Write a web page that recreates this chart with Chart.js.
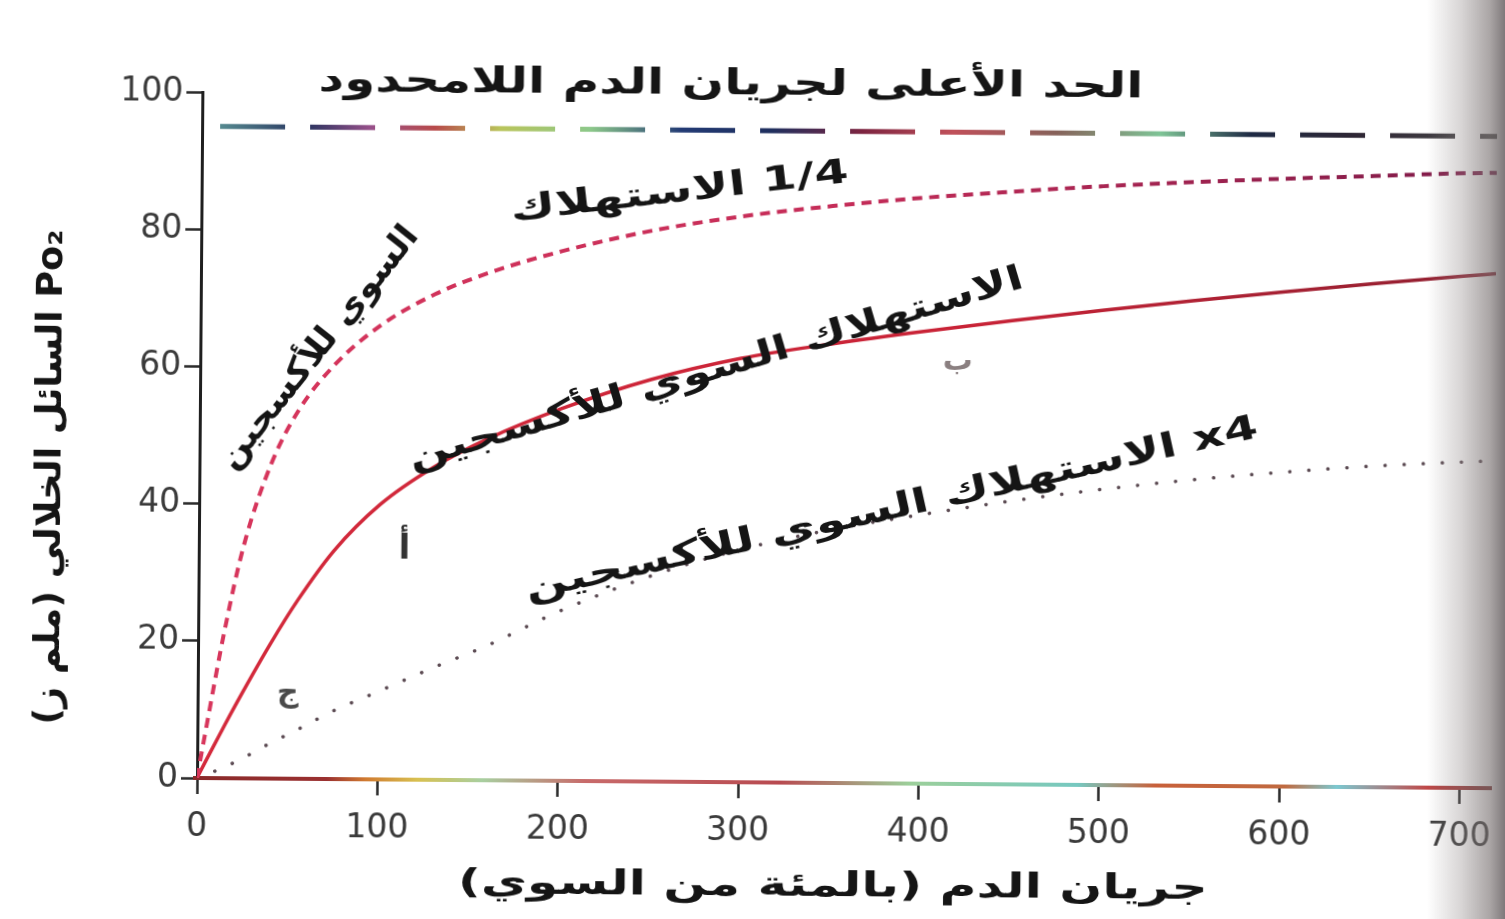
<!DOCTYPE html>
<html lang="ar">
<head>
<meta charset="utf-8">
<title>PO2 السائل الخلالي وجريان الدم</title>
<script src="https://cdn.jsdelivr.net/npm/chart.js@4.4.1/dist/chart.umd.min.js"></script>
<style>
  html, body { margin: 0; padding: 0; background: #fff; overflow: hidden; }
  #wrap { position: relative; width: 1505px; height: 919px; overflow: hidden; background: #fff; }
  /* the printed figure sits very slightly turned on the page */
  #chart { position: absolute; left: 0; top: 0; transform: rotate(0.45deg); transform-origin: 197px 778px; }
  /* shadow of the page fold along the right edge */
  #fold { position: absolute; right: 0; top: 0; width: 78px; height: 919px; pointer-events: none;
          background: linear-gradient(to right, rgba(150,140,140,0) 0%, rgba(140,132,132,0.35) 45%, rgba(120,112,112,0.62) 80%, rgba(95,88,90,0.8) 100%); }
</style>
</head>
<body>
<div id="wrap">
  <canvas id="chart" width="1505" height="919"></canvas>
  <div id="fold"></div>
</div>
<script>
// Blood flow (% of normal) and interstitial fluid PO2 (mm Hg) for three rates of O2 consumption
const flow        = [0, 5, 15, 25, 40, 55, 75, 100, 130, 160, 200, 250, 300, 350, 400, 450, 500, 550, 600, 650, 700, 718];
const po2Quarter  = [0, 7.5, 22.0, 34.0, 46.0, 53.8, 60.5, 66.2, 70.8, 74.0, 77.2, 80.3, 82.5, 84.1, 85.4, 86.4, 87.3, 88.0, 88.6, 89.1, 89.6, 89.7];
const po2Normal   = [0, 2.6, 7.7, 12.6, 19.6, 26.0, 33.3, 40.0, 45.6, 49.8, 54.2, 58.6, 61.8, 64.0, 65.9, 67.6, 69.2, 70.7, 72.1, 73.4, 74.6, 75.0];
const po2Fourfold = [0, 0.5, 1.6, 2.9, 5.1, 7.1, 9.9, 12.8, 16.3, 19.6, 24.7, 29.9, 33.9, 36.9, 39.2, 41.3, 43.1, 44.6, 45.8, 46.8, 47.5, 47.7];
const po2Limit    = [95, 95];               // upper limit with unlimited blood flow
const limitFlow   = [0, 718];
const flowTicks   = [0, 100, 200, 300, 400, 500, 600, 700];
const po2Ticks    = [0, 20, 40, 60, 80, 100];

const AR_FONT  = '"DejaVu Sans", sans-serif';
const NUM_FONT = '"DejaVu Sans", "Liberation Sans", sans-serif';

// Text placed in data units (flow, PO2); angle in degrees; width = drawn length in px
const notes = [
  { text: 'الحد الأعلى لجريان الدم اللامحدود', x: 293, y: 101.6, angle: 0,   size: 36, width: 825, color: '#151515' },
  { text: '1/4 الاستهلاك',                     x: 265, y: 85.9,  angle: -7,  size: 34, width: 340, color: '#151515' },
  { text: 'السوي للأكسجين',                    x: 66,  y: 62.8,  angle: -52, size: 34, width: 300, color: '#151515' },
  { text: 'الاستهلاك السوي للأكسجين',          x: 286, y: 60.1,  angle: -17, size: 34, width: 640, color: '#151515' },
  { text: 'x4 الاستهلاك السوي للأكسجين',       x: 384, y: 39.9,  angle: -13, size: 34, width: 750, color: '#151515' },
  { text: 'أ', x: 114, y: 33.5, angle: 0, size: 34, color: '#333' },
  { text: 'ب', x: 420, y: 61.5, angle: 0, size: 30, color: '#8a7f80' },
  { text: 'ج', x: 50,  y: 12.4, angle: 0, size: 30, color: '#4a4a4a' }
];
const xTitle = { text: 'جريان الدم (بالمئة من السوي)', x: 353, y: -15.2, angle: 0, size: 34, width: 750, color: '#151515' };
const yTitle = { text: 'Po₂ السائل الخلالي (ملم ز)', x: -82, y: 43.7, angle: -90, size: 36, width: 495, color: '#151515' };

function hGradient(chart, stops) {
  const a = chart.chartArea;
  if (!a) return stops[0][1];
  const g = chart.ctx.createLinearGradient(a.left, 0, a.right, 0);
  stops.forEach(([f, c]) => g.addColorStop(f, c));
  return g;
}

const limitColors = [
  [0.00, '#5f9c9a'], [0.08, '#27335e'], [0.13, '#97508a'], [0.18, '#b84a4a'],
  [0.23, '#b9c45a'], [0.30, '#8cc88a'], [0.37, '#223a74'], [0.44, '#1f2f5e'],
  [0.51, '#7d2440'], [0.58, '#c0505a'], [0.66, '#86625a'], [0.74, '#7ec496'],
  [0.81, '#1e2a44'], [0.89, '#2e2634'], [1.00, '#4a4a4a']
];
const axisColors = [
  [0.00, '#8a2a2a'], [0.10, '#9a3030'], [0.13, '#d07a30'], [0.17, '#d8c050'],
  [0.22, '#a8cfa0'], [0.30, '#c86a6a'], [0.45, '#b84a50'], [0.55, '#9ccf9a'],
  [0.68, '#76c8c0'], [0.74, '#c8603a'], [0.84, '#c06a40'], [0.88, '#7cc8d0'],
  [0.95, '#c04848'], [1.00, '#7a2a2a']
];

function drawNote(ctx, chart, n) {
  const xs = chart.scales.x, ys = chart.scales.y;
  const px = xs.getPixelForValue(n.x), py = ys.getPixelForValue(n.y);
  ctx.save();
  ctx.translate(px, py);
  ctx.rotate(n.angle * Math.PI / 180);
  ctx.font = 'bold ' + n.size + 'px ' + AR_FONT;
  ctx.direction = 'rtl';
  ctx.textAlign = 'center';
  ctx.textBaseline = 'middle';
  if (n.width) {
    const w = ctx.measureText(n.text).width;
    ctx.scale(n.width / w, 1);
  }
  ctx.fillStyle = n.color;
  ctx.fillText(n.text, 0, 0);
  ctx.restore();
}

const figurePlugin = {
  id: 'figureText',
  beforeDatasetsDraw(chart) {
    // coloured x axis line
    const ctx = chart.ctx, a = chart.chartArea;
    ctx.save();
    ctx.strokeStyle = hGradient(chart, axisColors);
    ctx.lineWidth = 4;
    ctx.beginPath();
    ctx.moveTo(a.left - 4, a.bottom);
    ctx.lineTo(a.right, a.bottom);
    ctx.stroke();
    ctx.restore();
  },
  afterDraw(chart) {
    const ctx = chart.ctx;
    notes.forEach(n => drawNote(ctx, chart, n));
    drawNote(ctx, chart, xTitle);
    drawNote(ctx, chart, yTitle);
  }
};

const pts = (xs, ys) => xs.map((x, i) => ({ x, y: ys[i] }));

new Chart(document.getElementById('chart'), {
  type: 'line',
  data: {
    datasets: [
      {
        label: 'limit',
        data: pts(limitFlow, po2Limit),
        borderColor: ctx => hGradient(ctx.chart, limitColors),
        borderWidth: 5,
        borderDash: [65, 25],
        borderDashOffset: 72
      },
      {
        label: '1/4',
        data: pts(flow, po2Quarter),
        borderColor: ctx => hGradient(ctx.chart, [[0, '#d8365c'], [0.5, '#c42c58'], [1, '#7d1a48']]),
        borderWidth: 4,
        borderDash: [10, 7]
      },
      {
        label: 'normal',
        data: pts(flow, po2Normal),
        borderColor: ctx => hGradient(ctx.chart, [[0, '#d42a3c'], [0.6, '#c82236'], [1, '#8e1f30']]),
        borderWidth: 3.5
      },
      {
        label: 'x4',
        data: pts(flow, po2Fourfold),
        borderColor: '#5b4a52',
        borderWidth: 3.5,
        borderDash: [0.1, 19],
        borderCapStyle: 'round'
      }
    ]
  },
  options: {
    responsive: false,
    animation: false,
    devicePixelRatio: 1,
    layout: { padding: { top: 92, right: 0, left: 0, bottom: 0 } },
    plugins: { legend: { display: false }, tooltip: { enabled: false } },
    elements: {
      point: { radius: 0, hoverRadius: 0 },
      line: { cubicInterpolationMode: 'monotone', borderJoinStyle: 'round' }
    },
    scales: {
      x: {
        type: 'linear',
        min: 0,
        max: 718,
        afterFit(s) { s.height = 141; },
        afterBuildTicks(s) { s.ticks = flowTicks.map(v => ({ value: v })); },
        grid: { drawOnChartArea: false, tickLength: 16, tickWidth: 2.5, tickColor: '#2a2a2a' },
        border: { display: false },
        ticks: { padding: 14, maxRotation: 0, autoSkip: false, color: '#3a3a3a', font: { family: NUM_FONT, size: 33 } }
      },
      y: {
        min: 0,
        max: 100,
        afterFit(s) { s.width = 197; },
        afterBuildTicks(s) { s.ticks = po2Ticks.map(v => ({ value: v })); },
        grid: { drawOnChartArea: false, tickLength: 16, tickWidth: 2.5, tickColor: '#2a2a2a' },
        border: { display: true, color: '#1f1f1f', width: 3 },
        ticks: { padding: 3, autoSkip: false, color: '#3a3a3a', font: { family: NUM_FONT, size: 33 } }
      }
    }
  },
  plugins: [figurePlugin]
});
</script>
</body>
</html>
